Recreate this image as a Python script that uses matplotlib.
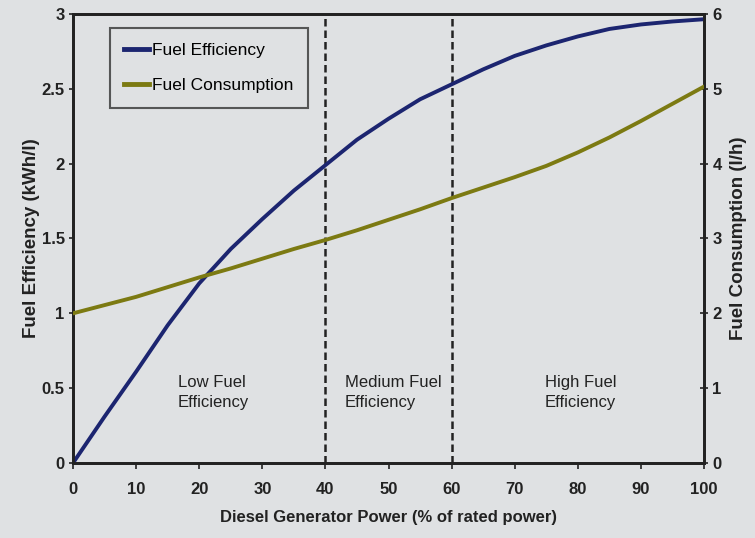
import numpy as np
import matplotlib
matplotlib.use('Agg')
from matplotlib import pyplot as plt

# values, every 5 % of rated power
power = [0, 5, 10, 15, 20, 25, 30, 35, 40, 45, 50,
         55, 60, 65, 70, 75, 80, 85, 90, 95, 100]
efficiency = [0, 0.31, 0.61, 0.92, 1.20, 1.43, 1.63, 1.82, 1.99, 2.16, 2.30,
              2.43, 2.53, 2.63, 2.72, 2.79, 2.85, 2.90, 2.93, 2.95, 2.965]
consumption = [2.0, 2.11, 2.22, 2.35, 2.48, 2.60, 2.73, 2.86, 2.98, 3.11, 3.25,
               3.39, 3.54, 3.68, 3.82, 3.97, 4.15, 4.35, 4.57, 4.80, 5.03]

regions = ['Low Fuel\nEfficiency', 'Medium Fuel\nEfficiency', 'High Fuel\nEfficiency']
region_x = [16.6, 43.1, 74.8]
bounds = [40, 60]

plt.rcParams['font.family'] = ['Liberation Sans', 'DejaVu Sans']

bg = '#dfe1e3'
blue = '#1c2570'
olive = '#7c7a12'
ink = '#222222'

fig = plt.figure(figsize=(7.55, 5.38), dpi=100, facecolor=bg)
ax = fig.add_axes([0.0967, 0.1394, 0.8358, 0.8346])
ax.set_facecolor('none')
ax2 = ax.twinx()

l1, = ax.plot(power, efficiency, color=blue, lw=2.8, label='Fuel Efficiency',
              zorder=3, solid_joinstyle='round')
l2, = ax2.plot(power, consumption, color=olive, lw=2.8, label='Fuel Consumption',
               zorder=3, solid_joinstyle='round')

for b in bounds:
    ax.axvline(b, color=ink, lw=1.8, ls=(0, (3, 1.6)), zorder=2)

for t, xx in zip(regions, region_x):
    ax.text(xx, 0.47, t, ha='left', va='center', fontsize=12, color=ink, linespacing=1.45)

ax.set_xlim(0, 100)
ax.set_ylim(0, 3)
ax2.set_ylim(0, 6)
ax.set_xticks(np.arange(0, 101, 10))
ax.set_yticks([0, 0.5, 1, 1.5, 2, 2.5, 3])
ax.set_yticklabels(['0', '0.5', '1', '1.5', '2', '2.5', '3'])
ax2.set_yticks(range(0, 7))

for a in (ax, ax2):
    for s in a.spines.values():
        s.set_linewidth(2)
        s.set_color(ink)

ax.tick_params(axis='x', direction='out', length=4, width=1.2, pad=10, labelsize=12, colors=ink)
ax.tick_params(axis='y', direction='out', length=3, width=1.2, pad=3, labelsize=12, colors=ink)
ax2.tick_params(axis='y', direction='inout', length=6, width=1.2, pad=3, labelsize=12, colors=ink)
for lab in ax.get_xticklabels() + ax.get_yticklabels() + ax2.get_yticklabels():
    lab.set_fontweight('bold')

ax.set_xlabel('Diesel Generator Power (% of rated power)', fontsize=12, fontweight='bold',
              labelpad=9, color=ink)
ax.set_ylabel('Fuel Efficiency (kWh/l)', fontsize=13.5, fontweight='bold', labelpad=1, color=ink)
ax2.set_ylabel('Fuel Consumption (l/h)', fontsize=13.5, fontweight='bold', labelpad=6, color=ink)

leg = ax.legend(handles=[l1, l2], loc='upper left', bbox_to_anchor=(0.058, 0.968),
                fontsize=12.5, frameon=True, fancybox=False, edgecolor='#333333',
                facecolor='none', handlelength=1.4, handletextpad=0.2, labelspacing=1.15,
                borderpad=0.85, borderaxespad=0)
leg.get_frame().set_linewidth(1.5)
for h in leg.get_lines():
    h.set_linewidth(3.5)

fig.savefig('out.png', dpi=100, facecolor=bg)
